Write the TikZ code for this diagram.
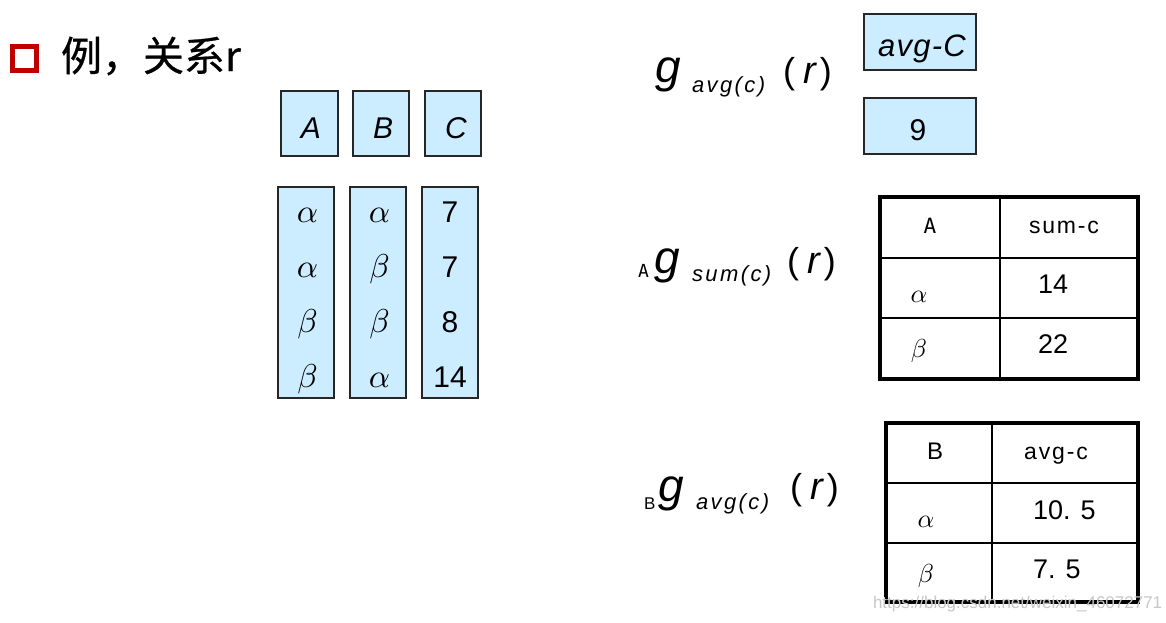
\documentclass[tikz,border=0pt]{standalone}
\usepackage{fontspec}
\setmainfont{Liberation Sans}
\newfontfamily\cjkf[FakeBold=0.6]{Noto Sans CJK SC}
\newfontfamily\monof{DejaVu Sans Mono}
\newcommand{\fsz}[1]{\fontsize{#1}{#1}\selectfont}
\newcommand{\gk}[2]{\scalebox{#1}{$#2$}}
\newcommand{\pr}{(\hspace{8pt}{\fsz{38}\textit{r}}\hspace{3pt})}
\definecolor{cellblue}{RGB}{204,236,255}
\definecolor{bulletred}{RGB}{192,0,0}
\begin{document}
\begin{tikzpicture}[x=1pt,y=-1pt,every node/.style={inner sep=0pt,outer sep=0pt},
  bluebox/.style={draw=black!85,line width=1.3pt,fill=cellblue},
  lbl/.style={anchor=base},
  lblw/.style={anchor=base west},
  hdr/.style={lbl,font=\itshape\fsz{30}},
  greek/.style={lbl},
  num/.style={lbl,font=\fsz{30}},
  bigg/.style={lblw,font=\itshape\fsz{46}},
  subs/.style={lblw,font=\itshape\fsz{22}\addfontfeature{LetterSpace=11}},
  paren/.style={lblw,font=\fsz{36}},
  outer/.style={draw=black,line width=4pt},
  inner/.style={draw=black,line width=2pt},
  tgreek/.style={lbl},
  tnum/.style={lbl,font=\fsz{27}},
  thead/.style={lbl,font=\fsz{23}\addfontfeature{LetterSpace=8}}]
\useasboundingbox (0,0) rectangle (1166,622);
\fill[white] (0,0) rectangle (1166,622);

% title
\node[draw=bulletred,line width=5pt,minimum size=24pt,fill=white] (bullet) at (24.5,58) {};
\node[lblw,font=\cjkf\fsz{41}] (title) at (61,71) {例，关系r};

% relation r : header boxes
\node[bluebox,minimum width=57,minimum height=65] (hA) at (309.5,123.5) {};
\node[bluebox,minimum width=56,minimum height=65] (hB) at (381,123.5) {};
\node[bluebox,minimum width=56,minimum height=65] (hC) at (453,123.5) {};
\node[hdr] (tA) at (311,138) {A};
\node[hdr] (tB) at (383,138) {B};
\node[hdr] (tC) at (456,138) {C};

% relation r : columns
\node[bluebox,minimum width=56,minimum height=211] (cA) at (306,292.5) {};
\node[bluebox,minimum width=56,minimum height=211] (cB) at (378,292.5) {};
\node[bluebox,minimum width=56,minimum height=211] (cC) at (450,292.5) {};
\node[greek] (a1) at (307.5,222) {\gk{3.3}{\alpha}};
\node[greek] (a2) at (307.5,277) {\gk{3.3}{\alpha}};
\node[greek] (a3) at (307.5,332) {\gk{3.3}{\beta}};
\node[greek] (a4) at (307.5,387) {\gk{3.3}{\beta}};
\node[greek] (b1) at (379.5,222) {\gk{3.3}{\alpha}};
\node[greek] (b2) at (379.5,277) {\gk{3.3}{\beta}};
\node[greek] (b3) at (379.5,332) {\gk{3.3}{\beta}};
\node[greek] (b4) at (379.5,387) {\gk{3.3}{\alpha}};
\node[num] (c1) at (450,222) {7};
\node[num] (c2) at (450,277) {7};
\node[num] (c3) at (450,332) {8};
\node[num] (c4) at (450,387) {14};

% g avg(c) (r)
\node[bigg] (g1) at (655,82) {g};
\node[subs] (s1) at (692,92) {avg(c)};
\node[paren] (p1) at (783,83) {\pr};
\node[bluebox,minimum width=112,minimum height=56] (avgbox) at (920,42) {};
\node[bluebox,minimum width=112,minimum height=56] (ninebox) at (920,126) {};
\node[lbl,font=\itshape\fsz{31}\addfontfeature{LetterSpace=4}] (avgtxt) at (922,56) {avg-C};
\node[lbl,font=\fsz{30}] (ninetxt) at (918,140) {9};

% A g sum(c) (r)
\node[lblw,font=\monof\fsz{18}] (pa) at (638,277) {A};
\node[bigg] (g2) at (654,273) {g};
\node[subs] (s2) at (692,281) {sum(c)};
\node[paren] (p2) at (787,273) {\pr};
\node[outer,minimum width=258,minimum height=182] (tabA) at (1009,288) {};
\draw[inner] (1000,197) -- (1000,379);
\draw[inner] (882,258) -- (1136,258);
\draw[inner] (882,318) -- (1136,318);
\node[lbl,font=\monof\fsz{21}] (tAh) at (930,233) {A};
\node[thead] (tAs) at (1064,233) {sum-c};
\node[tgreek] (tAa) at (919,302) {\gk{2.6}{\alpha}};
\node[tnum] (tA14) at (1053,293) {14};
\node[tgreek] (tAb) at (919,357) {\gk{2.6}{\beta}};
\node[tnum] (tA22) at (1053,353) {22};

% B g avg(c) (r)
\node[lblw,font=\fsz{17}] (pb) at (644,509) {B};
\node[bigg] (g3) at (658,501) {g};
\node[subs] (s3) at (696,509) {avg(c)};
\node[paren] (p3) at (790,499) {\pr};
\node[outer,minimum width=252,minimum height=179] (tabB) at (1012,512.5) {};
\draw[inner] (992,423) -- (992,602);
\draw[inner] (888,483) -- (1136,483);
\draw[inner] (888,543) -- (1136,543);
\node[lbl,font=\fsz{24}] (tBh) at (935,459) {B};
\node[thead] (tBs) at (1056,459) {avg-c};
\node[tgreek] (tBa) at (926,527) {\gk{2.6}{\alpha}};
\node[lblw,font=\fsz{27}] (tB1) at (1033,519) {10. 5};
\node[tgreek] (tBb) at (926,582) {\gk{2.6}{\beta}};
\node[lblw,font=\fsz{27}] (tB2) at (1033,578) {7. 5};

% watermark
\node[lblw,font=\fsz{17},text=black!22] (wm) at (873,608) {https://blog.csdn.net/weixin\_46072771};
\end{tikzpicture}
\end{document}
